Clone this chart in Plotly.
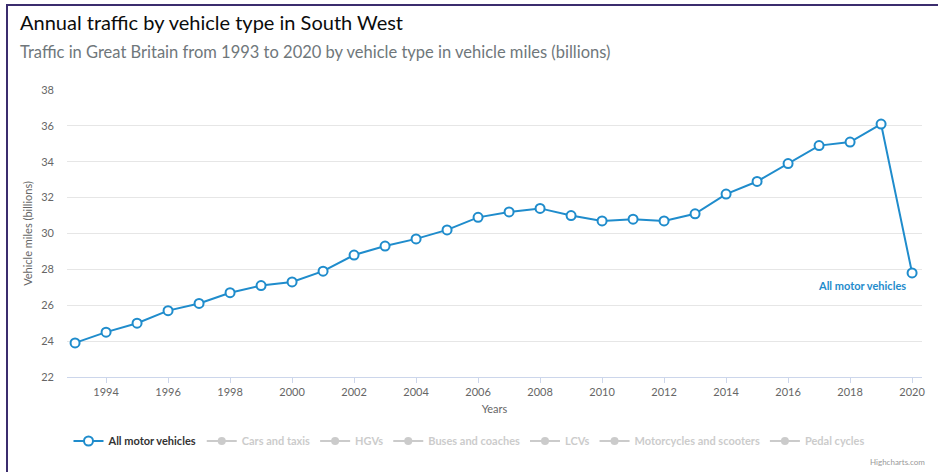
import plotly.graph_objects as go

years = list(range(1993, 2021))
all_motor = [23.9, 24.5, 25.0, 25.7, 26.1, 26.7, 27.1, 27.3, 27.9, 28.8,
             29.3, 29.7, 30.2, 30.9, 31.2, 31.4, 31.0, 30.7, 30.8, 30.7,
             31.1, 32.2, 32.9, 33.9, 34.9, 35.1, 36.1, 27.8]
hidden_series = ["Cars and taxis", "HGVs", "Buses and coaches", "LCVs",
                 "Motorcycles and scooters", "Pedal cycles"]
x_ticks = list(range(1994, 2021, 2))
y_ticks = list(range(22, 39, 2))

title = "Annual traffic by vehicle type in South West"
subtitle = "Traffic in Great Britain from 1993 to 2020 by vehicle type in vehicle miles (billions)"

BLUE = "#1f8ccc"
FONT = "Lato"

W, H = 938, 472
L, R, T, B = 67, 16, 90, 95
pw, ph = W - L - R, H - T - B

def px(x):
    return (x - L) / pw

def py(y):
    return (H - B - y) / ph

fig = go.Figure()
fig.add_trace(go.Scatter(
    x=years, y=all_motor, name="<b>All motor vehicles</b>", mode="lines+markers",
    line=dict(color=BLUE, width=2),
    marker=dict(symbol="circle", size=9, color="white",
                line=dict(color=BLUE, width=2)),
))
for name in hidden_series:
    fig.add_trace(go.Scatter(
        x=[None], y=[None], mode="lines+markers", visible="legendonly",
        name=f"<b><span style='color:#999999'>{name}</span></b>",
        line=dict(color="#999999", width=2),
        marker=dict(symbol="circle", size=8, color="#999999"),
    ))

fig.add_annotation(x=years[-1], y=all_motor[-1], xref="x", yref="y",
                   text="<b>All motor vehicles</b>", showarrow=False,
                   xanchor="right", yanchor="top", xshift=-4, yshift=-4,
                   font=dict(family=FONT, size=11, color=BLUE))

fig.add_annotation(x=px(18), y=py(22), xref="paper", yref="paper",
                   text=title, showarrow=False, xanchor="left", yanchor="middle",
                   font=dict(family=FONT, size=20, color="#0b0c0c"))
fig.add_annotation(x=px(18), y=py(52), xref="paper", yref="paper",
                   text=subtitle, showarrow=False, xanchor="left", yanchor="middle",
                   font=dict(family=FONT, size=16.5, color="#6f777b"))
fig.add_annotation(x=px(927), y=py(462), xref="paper", yref="paper",
                   text="Highcharts.com", showarrow=False, xanchor="right", yanchor="middle",
                   font=dict(family=FONT, size=8, color="#999999"))

# frame (top and left edges of the screenshot's border)
fig.add_shape(type="line", xref="paper", yref="paper",
              x0=px(6), x1=px(W + 2), y0=py(5), y1=py(5),
              line=dict(color="#3b2d6e", width=2))
fig.add_shape(type="line", xref="paper", yref="paper",
              x0=px(7), x1=px(7), y0=py(4), y1=py(H + 2),
              line=dict(color="#3b2d6e", width=2))

fig.update_layout(
    width=W, height=H,
    margin=dict(l=L, r=R, t=T, b=B, autoexpand=False),
    paper_bgcolor="white", plot_bgcolor="white",
    font=dict(family=FONT, color="#666666"),
    showlegend=True,
    legend=dict(orientation="h", x=px(469), xanchor="center", y=py(441), yanchor="middle",
                font=dict(family=FONT, size=11, color="#333333"),
                itemwidth=30, tracegroupgap=0, itemclick=False, itemdoubleclick=False),
    xaxis=dict(range=[1992.74, 2020.32], tickmode="array", tickvals=x_ticks,
               showgrid=False, showline=True, linecolor="#ccd6eb", linewidth=1,
               ticks="outside", ticklen=5, tickcolor="#ccd6eb",
               tickfont=dict(size=11, color="#666666"),
               title=dict(text="Years", font=dict(size=11, color="#666666"), standoff=8),
               zeroline=False, automargin=False),
    yaxis=dict(range=[22, 38], tickmode="array", tickvals=y_ticks,
               showgrid=True, gridcolor="#e6e6e6", gridwidth=1, showline=False,
               ticks="", ticklabelstandoff=12,
               tickfont=dict(size=11, color="#666666"),
               title=dict(text="Vehicle miles (billions)", font=dict(size=11, color="#666666"),
                          standoff=6),
               zeroline=False, automargin=False),
)

fig.write_html("out.html", config={"displayModeBar": False},
               post_script="document.body.style.margin='0';")
